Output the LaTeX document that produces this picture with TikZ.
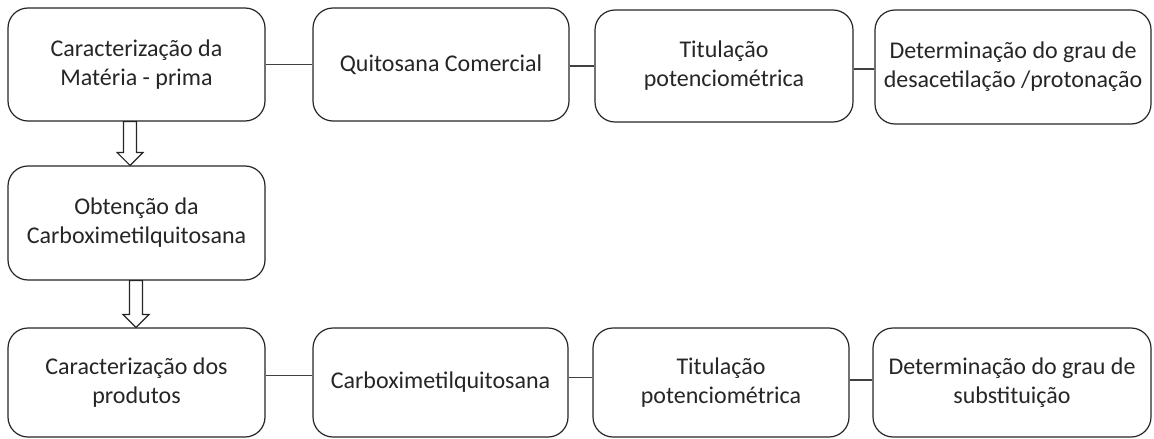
\documentclass[tikz,border=0pt]{standalone}
\usepackage{fontspec}
\newfontfamily\boxfont{Carlito}
\usetikzlibrary{calc}
\tikzset{
  procbox/.style={draw=black!85, line width=1.2pt, rounded corners=20pt, align=center,
    inner sep=0pt, fill=white, text=black!85, font={\boxfont\fontsize{24}{29}\selectfont}},
  link/.style={draw=black!75, line width=1.2pt},
  blockarrow/.style={draw=black!85, line width=1.2pt, fill=white, line join=miter}
}
\begin{document}
\begin{tikzpicture}[x=1pt,y=-1pt]
\useasboundingbox (0,0) rectangle (1154,439);
% row 1
\node[procbox, minimum width=257pt, minimum height=113pt] (A) at (136.5,64.5) {Caracterização da\\Matéria - prima};
\node[procbox, minimum width=256pt, minimum height=113pt] (B) at (441,64.5) {Quitosana Comercial};
\node[procbox, minimum width=258pt, minimum height=112pt] (C) at (724,66) {Titulação\\potenciométrica};
\node[procbox, minimum width=276pt, minimum height=114pt] (D) at (1013,67) {Determinação do grau de\\desacetilação /protonação};
% row 2
\node[procbox, minimum width=257pt, minimum height=114pt] (E) at (136.5,223) {Obtenção da\\Carboximetilquitosana};
% row 3
\node[procbox, minimum width=257pt, minimum height=109pt] (F) at (136.5,382.5) {Caracterização dos\\produtos};
\node[procbox, minimum width=255pt, minimum height=109pt] (G) at (440.5,382.5) {Carboximetilquitosana};
\node[procbox, minimum width=256pt, minimum height=109pt] (H) at (721,382.5) {Titulação\\potenciométrica};
\node[procbox, minimum width=278pt, minimum height=109pt] (I) at (1012,382.5) {Determinação do grau de\\substituição};
% connectors
\draw[link] (A.east) -- (A.east -| B.west);
\draw[link] ([yshift=-1.5pt]B.east) -- ([yshift=-1.5pt]B.east -| C.west);
\draw[link] ([yshift=-3pt]C.east) -- ([yshift=-3pt]C.east -| D.west);
\draw[link] ([yshift=7pt]F.east) -- ([yshift=7pt]F.east -| G.west);
\draw[link] ([yshift=5pt]G.east) -- ([yshift=5pt]G.east -| H.west);
\draw[link] ([yshift=2.5pt]H.east) -- ([yshift=2.5pt]H.east -| I.west);
% block arrows
\coordinate (t1) at (A.south -| 130,0);
\coordinate (p1) at (E.north -| 130,0);
\draw[blockarrow] ($(t1)+(-6.5,0)$) -- ($(p1)+(-6.5,-13)$) -- ($(p1)+(-13,-13)$) -- (p1)
  -- ($(p1)+(13,-13)$) -- ($(p1)+(6.5,-13)$) -- ($(t1)+(6.5,0)$) -- cycle;
\coordinate (t2) at (E.south -| 136,0);
\coordinate (p2) at (F.north -| 136,0);
\draw[blockarrow] ($(t2)+(-6.5,0)$) -- ($(p2)+(-6.5,-13)$) -- ($(p2)+(-13,-13)$) -- (p2)
  -- ($(p2)+(13,-13)$) -- ($(p2)+(6.5,-13)$) -- ($(t2)+(6.5,0)$) -- cycle;
\end{tikzpicture}
\end{document}
